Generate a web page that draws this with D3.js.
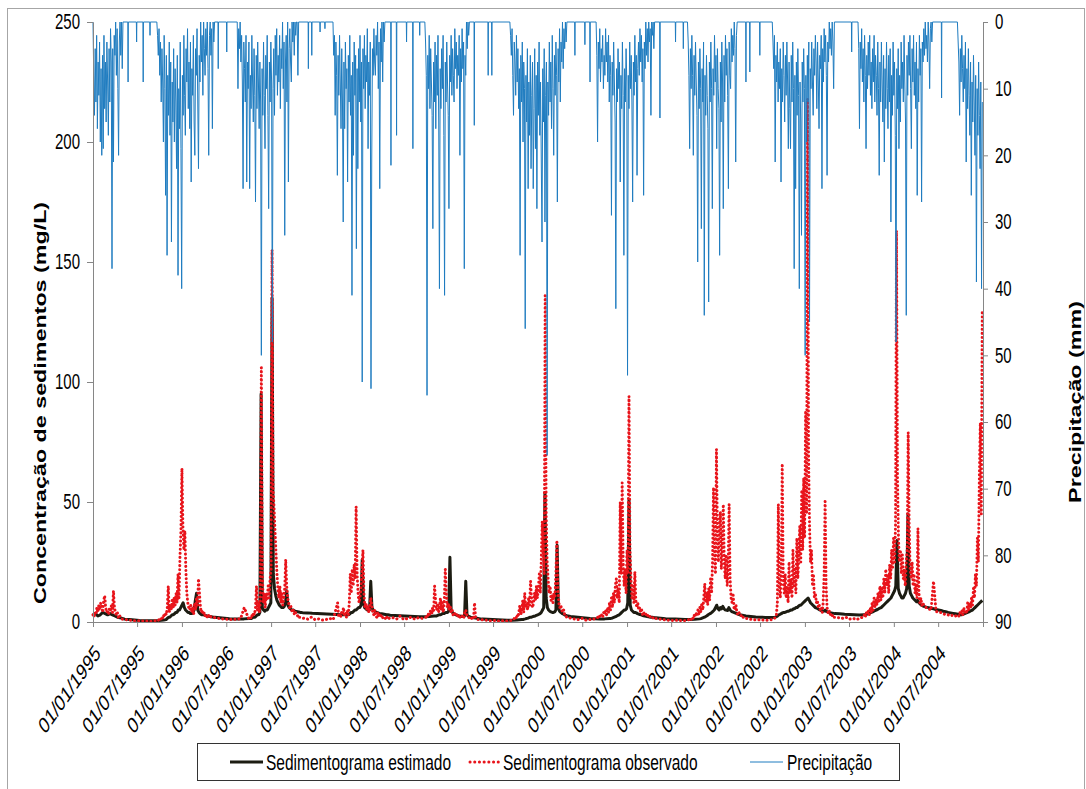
<!DOCTYPE html>
<html><head><meta charset="utf-8">
<script src="https://cdn.jsdelivr.net/npm/d3@7"></script>
<style>
body{margin:0;background:#fff}
text{font-family:"Liberation Sans",Arial,sans-serif}
</style>
</head><body>
<svg id="c" width="1086" height="789"></svg>
<script>
// ---------------- DATA ----------------
const dataInicial = "01/01/1995";   // day 0 of every series
const dataFinal   = "01/01/2005";   // end of the date axis
const rotulosEixoX = ["01/01/1995","01/07/1995","01/01/1996","01/07/1996","01/01/1997","01/07/1997",
  "01/01/1998","01/07/1998","01/01/1999","01/07/1999","01/01/2000","01/07/2000","01/01/2001",
  "01/07/2001","01/01/2002","01/07/2002","01/01/2003","01/07/2003","01/01/2004","01/07/2004"];
const ticksConcentracao = [0,50,100,150,200,250];
const ticksPrecipitacao = [0,10,20,30,40,50,60,70,80,90];
const legenda = ["Sedimentograma estimado","Sedimentograma observado","Precipitação"];

// runs: [first day (days after dataInicial), step in days, values]
const precipitacaoRuns = [
 [0,3,[0,8,14,4,12,2,16,6,11,3, 18,7,20,5,19,2,13,6,15,3, 9,17,4,12,1,6,37,4,21,2, 5,0,8,1,10,20,3,0,5,0, 7,0]],
 [262,3,[0,2,5,1,8,3,12,4,9,18, 2,10,26,5,35,8,14,3,17,6, 33,9,15,4,18,7,12,22,5,38, 10,16,3,19,40,8,14,2,11,17,
   4,9,1,13,6,16,3,24,7,11, 2,15,20,4,8,1,12,22,5,9, 0,6,2,11,0,4,8,1,5,0, 7,20,2,0,5,1,16,0,3,0]],
 [592,3,[0,10,1,4,0,6,2,9,25,3, 7,12,2,24,6,10,3,25,8,13, 2,9,15,4,11,27,5,13,3,9, 16,6,12,50,7,14,3,11,19,5,
   10,2,14,28,6,12,3,9,48,10, 4,14,2,8,1,11,5,9,2,13, 4,7,0,10,3,32,6,2,12,0, 24,4,1,6,9,0,3,0,5,0, 2,0,0,8,0]],
 [985,3,[0,5,2,14,3,8,23,5,11,2, 9,16,4,12,30,6,16,3,10,7, 24,5,12,2,14,8,41,6,20,3, 11,5,34,7,22,4,12,2,15,6,
   54,4,10,2,13,5,9,1,19,6, 11,3,55,21,4,8,1,6,8,2, 5,0,10,3,25,1,6,0,9,0, 3,0]],
 [1362,3,[0,3,8,56,5,10,2,13,4,9, 14,31,6,12,3,16,5,11,2,15, 40,7,13,4,10,2,17,41,6,12, 3,9,14,28,5,9,2,11,4,8,
   12,1,7,3,10,5,8,2,20,4, 9,1,7,3,37,5,8,0,4,0, 2,0]],
 [1711,3,[0,2,5,1,8,14,3,6,11,2, 9,4,13,7,35,5,12,3,18,6, 10,46,8,15,4,25,9,17,5,22, 11,6,25,13,4,19,8,28,6,14,
   3,17,9,21,33,7,15,4,30,11, 6,65,9,14,3,12,6,16,2,10, 20,5,11,3,8,27,4,9,1,12, 3,6,0,7,1,4,0,3,0]],
 [2065,3,[0,5,18,3,7,1,9,4,6,2, 10,5,8,1,6,3,9,2,12,5, 8,29,6,11,3,9,15,43,7,12, 4,10,6,24,8,13,3,11,35,7,
   12,4,9,53,8,13,3,10,5,12, 27,6,11,2,9,5,23,7,3,8, 1,6,2,9,4,26,3,7,0,5, 1,6,0,3,1,14,0,2,0,4, 0]],
 [2440,3,[0,3,8,19,4,10,2,8,20,5, 11,3,9,14,36,6,13,4,10,31, 7,12,3,44,8,14,5,11,16,42, 6,12,3,10,28,7,11,2,9,5,
   19,4,10,13,35,6,15,3,9,28, 5,12,2,8,4,11,25,3,8,10, 1,6,2,5,0,4,21,2,0]],
 [2788,3,[0,3,7,2,21,5,9,3,12,6, 10,4,24,7,12,3,8,15,5,11, 3,9,19,6,13,19,5,12,3,10, 37,8,25,6,14,4,11,40,9,15,
   32,6,12,4,10,50,8,18,5,12, 3,45,7,10,3,9,14,4,8,2, 6,13,3,9,16,5,7,2,25,4, 9,1,6,2,8,23,3,6,0,4, 1,5,0,3,10,0]],
 [3140,3,[0,4,16,3,7,1,9,4,12,2, 8,19,5,10,3,8,2,11,6,13, 4,9,2,12,5,8,14,3,10,23, 6,12,3,9,15,5,21,7,13,3,
   10,16,5,12,4,30,8,14,3,11, 6,17,48,7,13,4,19,8,15,3, 10,6,12,2,9,15,44,5,11,3, 8,2,10,19,4,9,2,11,6,13,
   3,26,7,12,2,8,4,27,3,6, 1,5,0,4,2,6,0,3,10,1, 0,3,0]],
 [3548,3,[0,3,6,14,4,9,2,7,12,5, 10,3,21,7,13,4,11,17,6,26, 9,15,5,12,20,8,39,10,17,6, 14,22,9,40,12]]
];
// isolated dry-season showers: [day, mm]
const precipitacaoIsolada = [[144,9],[179,3],[206,9],[234,2],[514,7],[549,4.5],[884,7],[898,5],[932,1.5],[952,1],
 [1223,21.5],[1246,17],[1287,3],[1313,19],[1341,2],[1565,15.5],[1622,8],[1637,8],[1978,5],[2019,3.4],[2040,9],
 [2327,14.4],[2391,3],[2423,4],[2680,9],[2696,7.5],[2737,5],[3114,4.5],[3483,11.4]];

const estimadoRuns = [
 [0,10,[3,3.5,2.5,3,4,3.5,3,3.5,3,2.5,2,1.8,1.5]],
 [130,20,[1.2,1,0.8,0.6,0.5,0.5,0.5,0.6,0.8]],
 [300,5,[1,1.5,2,2,2.5,3,3,3.5,4,4, 5,5,6,7,8,6,5,4.5,4,4, 3.5,3.5,4,5,9,12,5,4,3.5,3, 3,3,2.8,2.6,2.5,2.4,2.3,2.2,2.1,2, 2]],
 [520,20,[1.8,1.6,1.4,1.3,1.2,1.3,1.5]],
 [650,5,[1.5,1.8,2,2,2.5,3,3,4,95,6, 5,4.5,5,5,6,7,8,135,20,14, 11,9,8,7,6.5,6,6,6.5,8,13, 7,6,5.5,5,5,4.8,4.5,4.4,4.3,4.2, 4,4,3.9]],
 [880,20,[3.8,3.6,3.5,3.4,3.3,3.2,3.1,3,3]],
 [1050,5,[3,3.5,4,4,4.5,5,5,5.5,6,6, 7,26,8,6,5.5,5,5,5,17,6, 5,4.5,4.2,4,3.8,3.6,3.5,3.4,3.3,3.2, 3.1,3,3,2.9,2.8]],
 [1240,20,[2.7,2.6,2.5,2.4,2.3,2.2,2.2,2.3,2.5]],
 [1405,5,[2.5,2.5,2.8,3,3,3.2,3.5,3.5,3.8,4, 4,4.5,27,5,4,3.5,3.2,3,2.8,2.6, 2.5,2.4,2.3,2.3,2.5,17,3,2.5,2.2,2, 1.9,1.8,1.8,1.7,1.6,1.5,1.4,1.3,1.2,1.2]],
 [1620,20,[1.1,1,0.9,0.8,0.7,0.7,0.8,1]],
 [1765,5,[1,1.2,1.3,1.5,1.6,1.8,2,2,2.2,2.4, 2.5,2.8,3,3.2,3.5,4,5,6,54,10, 6,5,4.5,4.2,4,4,4.2,5,32,6, 4.5,4,3.6,3.3,3,2.8,2.6,2.5,2.4,2.3]],
 [1980,20,[2.1,1.9,1.7,1.5,1.4,1.3,1.3,1.5]],
 [2125,5,[1.5,1.6,1.8,2,2.2,2.5,2.8,3,3.5,4, 4.5,5,5,5.5,8,51,7,5,4.5,4, 4,3.8,3.5,3.3,3.1,3,2.8,2.6,2.5,2.4, 2.3,2.2,2.1,2,2,1.9,1.8,1.8]],
 [2330,20,[1.6,1.4,1.3,1.2,1.1,1,1,1.1,1.3]],
 [2495,5,[1.4,1.6,1.8,2,2.3,2.6,3,3.3,3.6,4, 4.5,5,6,7,5.5,5,6,5.5,6.5,5.5, 5,5,4.8,6,5,4.5,4.2,4,3.8,3.6, 3.4,3.2,3,2.9,2.8,2.7,2.6,2.5]],
 [2700,20,[2.3,2.1,2,1.9,1.9,2]],
 [2805,5,[2.2,2.5,3,3.2,3.5,3.8,4,4,4.2,4.5, 4.5,4.8,5,5,5.5,5.5,6,6,6.5,7, 7,7.5,8,8.5,9,9.5,10,9,8,7.5, 7,6.5,6,5.8,5.5,5.2,5,4.8,4.6,4.5, 5,4.4,4.2,4,3.9,3.8,3.7,3.6,3.5]],
 [3065,20,[3.4,3.2,3.1,3,2.9,3]],
 [3170,5,[3,3.2,3.4,3.6,3.8,4,4.2,4.5,4.8,5, 5.2,5.5,5.8,6,6.5,7,7.5,8,8.5,9, 9.5,10,11,12,13,15,34,14,12,11, 10,10,11,12,14,45,15,12,11,10, 9.5,9,8.5,9,8,7.5,7,6.8,6.5]],
 [3420,10,[6.2,6,5.7,5.5,5.2,5,4.8,4.5,4.3,4,3.8,3.6,3.4,3.2,3]],
 [3565,5,[3,3.2,3.4,3.6,3.8,4,4.2,4.5,4.8,5,5.5,6,6.5,7,7.5,8,8.5,9]]
];

const observadoRuns = [
 [0,4,[3,2,4,3,6,4,7,5,8,6, 4,9,11,6,4,5,3,6,5,7, 4,13,6,4,3,4,2,3,2,1.5]],
 [120,15,[1.2,1,0.8,0.6,0.5,0.5,0.4,0.4,0.3,0.5]],
 [257,4,[0.5,0.6,1,0.8,1.5,1,2,1.5,3,2, 4,3,6,15,4,7,5,9,6,10, 7,12,8,20,10,27,38,64,40,30, 38,22,12,8,6,5,7,4,6,3,
   8,5,10,7,18,12,6,4,5,3, 4,2.5,3,2,3,2,2.5,2]],
 [486,15,[2,1.8,1.5,1.3,1.2,1,1.2,1,1.5,6,2]],
 [639,4,[1.5,2,1.5,3,2,4,3,6,15,5, 8,4,9,106,20,8,12,6,12,9, 15,10,18,22,155,55,48,38,29,20, 14,10,15,8,12,7,10,14,26,15,
   10,8,6,7,5,4,5,3,4,3, 2.5,3,2]],
 [851,15,[2,1.5,1.2,2,1,1.3,0.8,1,1.5,1]],
 [1004,4,[8,2,3,2,4,3,6,3,4,2, 5,3,8,20,12,22,15,24,18,48, 20,12,8,10,14,22,30,12,6,8, 5,7,4,6,10,7,4,3,5,3,
   2,4,2,3,2,3,2,1.5,2,1.5, 2.5,1.5,2]],
 [1216,15,[1.5,1.8,1.2,2.5,1,1.5,2,1.2,1.8,1.5,2]],
 [1370,4,[3,2,4,3,5,3,6,4,15,9, 5,7,4,6,10,5,8,4,9,22, 12,6,8,5,7,4,5,3,4,3, 2.5,3,2,3,2,2.5,2,3,2,4,
   5,3,2,2,1.5,2,1.5,2,1.5,8, 2,1.5,1]],
 [1590,15,[1,0.8,0.7,0.5,0.6,0.4,0.5,0.4,0.6,0.8]],
 [1732,4,[2,1.5,3,2,4,7,3,5,9,4, 12,6,8,5,10,7,17,9,6,8, 12,9,15,10,14,20,12,26,42,30, 20,136,45,25,18,12,15,9,11,8,
   12,10,20,34,14,8,6,7,5,4, 5,3,3,2]],
 [1948,15,[2,1.5,1.2,1,1.5,0.8,1,1.2,1.5]],
 [2072,4,[2,1.5,2.5,2,3,2,4,3,5,3, 6,4,8,5,10,6,12,8,15,18, 10,14,8,50,20,58,25,15,22,12, 30,20,94,30,18,10,15,8,21,9,
   6,8,5,6,4,5,3,4,3,3.5, 2.5,3,2,2.5,2,2,1.5,2,1.5,1.5]],
 [2312,15,[1.5,1.2,1,0.8,0.7,0.6,0.8,0.5,0.6,1]],
 [2451,4,[1.5,1,2,1.5,3,2,4,2.5,5,3, 6,4,8,5,10,16,8,12,7,14, 9,18,12,25,56,30,20,72,35,25, 40,46,22,30,49,25,18,28,15,22,
   49,18,10,8,12,6,5,7,4,3, 4,3,2.5,3,2,2,1.5]],
 [2680,15,[1.5,1.2,1,0.8,1,0.7,0.8,1]],
 [2797,4,[1.5,2,3,8,49,15,10,20,66,18, 12,20,10,15,8,25,12,18,10,30, 15,22,12,35,18,28,40,25,55,30, 60,35,88,45,218,70,40,25,30,15,
   20,10,12,8,9,6,7,5,6,4, 8,20,51,15,6,4,5,3,3.5,2.5,3,2]],
 [3045,15,[2,1.8,1.5,2,1.2,1.5,1,1.8]],
 [3162,4,[2,3,2,4,3,5,3,6,4,8, 5,10,6,9,7,12,8,15,9,14, 10,18,12,22,15,20,12,24,18,30, 22,35,25,40,163,60,35,25,30,20,
   28,18,22,15,25,30,79,40,22,18, 25,15,20,12,15,10,39,12,8,10, 7,8]],
 [3410,10,[7,6,5.5,5,17,4.5,4,4,3.5,3,3,2.5,3,2.5]],
 [3550,4,[3,2.5,4,3,5,3,6,4,5,3.5, 8,5,8,6,10,7,14,10,20,15, 35,25,60,83,45,130]]
];

// ---------------- CHART ----------------
const parse = d3.utcParse("%d/%m/%Y");
const origem = parse(dataInicial);
const dia = n => d3.utcDay.offset(origem, n);

function expandir(runs){
  const out = [];
  runs.forEach(([d0, passo, vals]) => vals.forEach((v,i) => out.push({d: dia(d0 + i*passo), v})));
  return out;
}
const estimado = expandir(estimadoRuns);
const observado = expandir(observadoRuns);
const chuva = expandir(precipitacaoRuns);
precipitacaoIsolada.forEach(([n,v]) => {
  chuva.push({d: dia(n-1), v: 0}, {d: dia(n), v}, {d: dia(n+1), v: 0});
});
chuva.sort((a,b) => a.d - b.d);

const L = 93, R = 983, T = 22, B = 622;
const SY = 1.42; // vertical stretch of the lettering in the reference

const x = d3.scaleUtc().domain([origem, parse(dataFinal)]).range([L, R]);
const yL = d3.scaleLinear().domain([0, 250]).range([B, T]);
const yR = d3.scaleLinear().domain([0, 90]).range([T, B]);

const svg = d3.select("#c");
svg.append("rect").attr("width",1086).attr("height",789).attr("fill","#fff");
svg.append("rect").attr("x",7.5).attr("y",8.5).attr("width",1077).attr("height",800)
   .attr("fill","none").attr("stroke","#a6a6a6").attr("stroke-width",1);

const axisColor = "#868686";
function styleAxis(g){
  g.select(".domain").attr("stroke", axisColor);
  g.selectAll(".tick line").attr("stroke", axisColor);
  g.selectAll(".tick text").attr("fill","#000").attr("font-size","15px")
   .attr("font-family",'"Liberation Sans",Arial,sans-serif');
}

// series
const lineL = d3.line().x(d => x(d.d)).y(d => yL(d.v));
const lineR = d3.line().x(d => x(d.d)).y(d => yR(d.v));

svg.append("path").datum(estimado).attr("d", lineL)
  .attr("fill","none").attr("stroke","#1c1c12").attr("stroke-width",3).attr("stroke-linejoin","round");
svg.append("path").datum(observado).attr("d", lineL)
  .attr("fill","none").attr("stroke","#e8141b").attr("stroke-width",3)
  .attr("stroke-dasharray","0.1 4").attr("stroke-linecap","round").attr("stroke-linejoin","round");
svg.append("path").datum(chuva).attr("d", lineR)
  .attr("fill","none").attr("stroke","#1f7cc0").attr("stroke-width",1);

// axes
const gL = svg.append("g").attr("transform",`translate(${L},0)`)
  .call(d3.axisLeft(yL).tickValues(ticksConcentracao).tickSize(6).tickPadding(7).tickSizeOuter(0));
styleAxis(gL);
gL.selectAll(".tick text").attr("transform",`scale(1,${SY})`);

const gR = svg.append("g").attr("transform",`translate(${R},0)`)
  .call(d3.axisRight(yR).tickValues(ticksPrecipitacao).tickSize(5).tickPadding(7).tickSizeOuter(0));
styleAxis(gR);
gR.selectAll(".tick text").attr("transform",`scale(1,${SY})`);

const rotulosSet = new Map(rotulosEixoX.map(s => [+parse(s), s]));
const xTicks = rotulosEixoX.map(parse).concat([parse(dataFinal)]);
const gB = svg.append("g").attr("transform",`translate(0,${B})`)
  .call(d3.axisBottom(x).tickValues(xTicks).tickSize(5).tickSizeOuter(0)
        .tickFormat(d => rotulosSet.get(+d) || ""));
styleAxis(gB);
gB.selectAll(".tick text").attr("font-size","16px").attr("x",0).attr("y",0).attr("dy","0.35em")
  .attr("text-anchor","end").attr("transform",`translate(4,27) scale(1,${SY}) rotate(-45)`);

// axis titles
svg.append("text").attr("transform",`translate(40,403) scale(1,1.37) rotate(-90)`)
  .attr("text-anchor","middle").attr("dy","0.35em").attr("font-weight","bold").attr("font-size","17px")
  .attr("fill","#000").text("Concentração de sedimentos (mg/L)");
svg.append("text").attr("transform",`translate(1075,402) scale(1,1.37) rotate(-90)`)
  .attr("text-anchor","middle").attr("dy","0.35em").attr("font-weight","bold").attr("font-size","17px")
  .attr("fill","#000").text("Precipitação (mm)");

// legend
const lg = svg.append("g");
lg.append("rect").attr("x",197.5).attr("y",743.5).attr("width",702).attr("height",37)
  .attr("fill","#fff").attr("stroke","#333").attr("stroke-width",1);
const ly = 762;
const itens = [
  {x1:230, x2:263, tx:266, stroke:"#1c1c12", w:3, dash:null},
  {x1:470, x2:500, tx:503, stroke:"#e8141b", w:3, dash:"0.1 4.6"},
  {x1:750, x2:783, tx:787, stroke:"#1f7cc0", w:1, dash:null}
];
itens.forEach((it,i) => {
  const l = lg.append("line").attr("x1",it.x1).attr("x2",it.x2).attr("y1",ly).attr("y2",ly)
    .attr("stroke",it.stroke).attr("stroke-width",it.w);
  if (it.dash) l.attr("stroke-dasharray",it.dash).attr("stroke-linecap","round");
  lg.append("text").attr("transform",`translate(${it.tx},${ly}) scale(1,${SY})`)
    .attr("dy","0.35em").attr("font-size","15.5px").attr("fill","#000").text(legenda[i]);
});
</script>
</body></html>
